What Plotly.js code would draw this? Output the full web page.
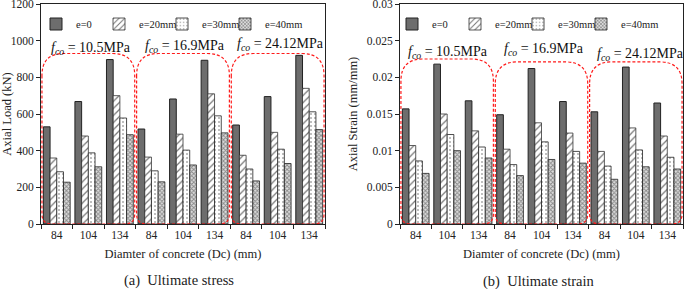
<!DOCTYPE html>
<html><head><meta charset="utf-8">
<script src="https://cdn.plot.ly/plotly-3.0.1.min.js"></script>
<style>html,body{margin:0;padding:0;background:#fff}</style>
</head><body><div id="chart" style="width:685px;height:289px"></div>
<script>
var diameters = ['84','104','134','84','104','134','84','104','134'];
var seriesNames = ['e=0','e=20mm','e=30mm','e=40mm'];
var strengthLabels = ['10.5MPa','16.9MPa','24.12MPa'];

// Axial load (kN)
var load_e0  = [530, 668, 897, 518, 682, 893, 540, 695, 920];
var load_e20 = [360, 480, 700, 365, 490, 710, 375, 500, 740];
var load_e30 = [285, 388, 578, 290, 403, 590, 300, 408, 612];
var load_e40 = [228, 312, 487, 230, 322, 497, 235, 330, 515];

// Axial strain (mm/mm)
var strain_e0  = [0.0157, 0.0218, 0.0168, 0.0149, 0.0212, 0.0167, 0.0153, 0.0214, 0.0165];
var strain_e20 = [0.0107, 0.0150, 0.0127, 0.0102, 0.0138, 0.0124, 0.0099, 0.0131, 0.0120];
var strain_e30 = [0.0086, 0.0122, 0.0105, 0.0081, 0.0112, 0.0099, 0.0079, 0.0101, 0.0091];
var strain_e40 = [0.0069, 0.0100, 0.0090, 0.0066, 0.0088, 0.0083, 0.0061, 0.0078, 0.0075];

var xIdx = diameters.map(function(d,i){return i;});
var serif = 'Liberation Serif, Times New Roman, serif';

var styles = [
  {color:'#6d6d6d', line:{color:'#222', width:1}},
  {color:'#fff', line:{color:'#333', width:0.8}, pattern:{shape:'/', fgcolor:'#777', bgcolor:'#fff', size:5, solidity:0.25}},
  {color:'#fff', line:{color:'#222', width:0.8}, pattern:{shape:'.', fgcolor:'#aaa', bgcolor:'#fff', size:4, solidity:0.2}},
  {color:'#fff', line:{color:'#222', width:0.8}, pattern:{shape:'x', fgcolor:'#888', bgcolor:'#ddd', size:3, solidity:0.5}}
];

var loadSets = [load_e0, load_e20, load_e30, load_e40];
var strainSets = [strain_e0, strain_e20, strain_e30, strain_e40];
var traces = [];
loadSets.forEach(function(v,k){
  traces.push({type:'bar', x:xIdx, y:v, name:seriesNames[k], xaxis:'x', yaxis:'y', legend:'legend', marker:styles[k]});
});
strainSets.forEach(function(v,k){
  traces.push({type:'bar', x:xIdx, y:v, name:seriesNames[k], xaxis:'x2', yaxis:'y2', legend:'legend2', marker:styles[k]});
});
// empty legend spacers so the last legend label is not clipped
[['x','y','legend'],['x2','y2','legend2']].forEach(function(r){
  traces.push({type:'scatter', mode:'markers', x:[null], y:[null], name:' ', xaxis:r[0], yaxis:r[1], legend:r[2],
    marker:{color:'rgba(0,0,0,0)', size:1}, hoverinfo:'skip'});
});

var W = 685, H = 289;
var xd1 = [41/W, 325/W], xd2 = [400/W, 683/W];
var yd = [1-224/H, 1-4/H];
var plotH = 220;

function roundedBox(xref, yref, x0, x1, y0, y1, pxW, yMax, rTop, rBot) {
  var cx = 9/pxW, cy = yMax/plotH;
  var rxT = rTop*cx, ryT = rTop*cy, rxB = rBot*cx, ryB = rBot*cy;
  var p = 'M' + x0 + ',' + (y1-ryT) +
    ' L' + x0 + ',' + (y0+ryB) +
    ' Q' + x0 + ',' + y0 + ' ' + (x0+rxB) + ',' + y0 +
    ' L' + (x1-rxB) + ',' + y0 +
    ' Q' + x1 + ',' + y0 + ' ' + x1 + ',' + (y0+ryB) +
    ' L' + x1 + ',' + (y1-ryT) +
    ' Q' + x1 + ',' + y1 + ' ' + (x1-rxT) + ',' + y1 +
    ' L' + (x0+rxT) + ',' + y1 +
    ' Q' + x0 + ',' + y1 + ' ' + x0 + ',' + (y1-ryT) + ' Z';
  return {type:'path', xref:xref, yref:yref, path:p, line:{color:'#ff1a1a', width:1.2, dash:'3px,2px'}, layer:'above'};
}

var shapes = [], annotations = [];
var boxTop1 = [930, 930, 930], boxTop2 = [0.0225, 0.0221, 0.0221];
var lblY1 = [955, 970, 977], lblY2 = [0.0234, 0.0238, 0.0231];
var lblDx1 = [3, 2, 3], lblDx2 = [1, 2, 5];
for (var g=0; g<3; g++){
  var a = -0.5 + 3*g + 0.03, b = 2.5 + 3*g - 0.03;
  shapes.push(roundedBox('x','y', a, b, 0, boxTop1[g], 284, 1200, 22, 10));
  shapes.push(roundedBox('x2','y2', a, b, 0, boxTop2[g], 283, 0.03, 22, 10));
  var t = '<i>f</i><sub><i>co</i></sub> = ' + strengthLabels[g];
  annotations.push({xref:'x', yref:'y', x:1+3*g, y:lblY1[g], xshift:lblDx1[g], text:t, showarrow:false, font:{family:serif, size:14, color:'#111'}});
  annotations.push({xref:'x2', yref:'y2', x:1+3*g, y:lblY2[g], xshift:lblDx2[g], text:t, showarrow:false, font:{family:serif, size:14, color:'#111'}});
}
annotations.push({xref:'paper', yref:'paper', x:179/W, y:1-280/H, xanchor:'center', yanchor:'middle', text:'(a)  Ultimate stress', showarrow:false, font:{family:serif, size:14.5, color:'#222'}});
annotations.push({xref:'paper', yref:'paper', x:538/W, y:1-281/H, xanchor:'center', yanchor:'middle', text:'(b)  Ultimate strain', showarrow:false, font:{family:serif, size:14.5, color:'#222'}});

function xAxis(domain, anchor){
  return {domain:domain, anchor:anchor, range:[-0.5, 8.5], tickvals:xIdx, ticktext:diameters, automargin:false,
    ticks:'', showline:true, mirror:true, linecolor:'#222', linewidth:1, showgrid:false, zeroline:false,
    minor:{ticks:'outside', tick0:0.5, dtick:1, ticklen:4, tickcolor:'#222', showgrid:false},
    tickfont:{family:serif, size:11.5, color:'#222'}, ticklabeloverflow:'allow',
    title:{text:'Diamter of concrete (Dc) (mm)', font:{family:serif, size:12.5, color:'#222'}, standoff:9}};
}
function yAxis(domain, anchor, range, dtick, title){
  return {domain:domain, anchor:anchor, range:range, dtick:dtick, ticks:'outside', ticklen:4, tickcolor:'#222', automargin:false,
    showline:true, mirror:true, linecolor:'#222', linewidth:1, showgrid:false, zeroline:false,
    tickfont:{family:serif, size:11.5, color:'#222'}, ticklabeloverflow:'allow',
    title:{text:title, font:{family:serif, size:12.5, color:'#222'}, standoff:6}};
}

var legendBase = {orientation:'h', xanchor:'left', yanchor:'middle', bgcolor:'rgba(0,0,0,0)',
  font:{family:serif, size:10.5, color:'#222'}, itemwidth:30, entrywidth:18, entrywidthmode:'pixels', tracegroupgap:0};
var layout = {
  width:W, height:H, margin:{l:0, r:0, t:0, b:0, autoexpand:false}, paper_bgcolor:'#fff', plot_bgcolor:'#fff',
  barmode:'group', bargap:0.15, bargroupgap:0, showlegend:true,
  xaxis:xAxis(xd1,'y'), yaxis:yAxis(yd,'x',[0,1200],200,'Axial Load (kN)'),
  xaxis2:xAxis(xd2,'y2'), yaxis2:yAxis(yd,'x2',[0,0.03],0.005,'Axial Strain (mm/mm)'),
  legend:Object.assign({}, legendBase, {x:36/W, y:1-24/H}),
  legend2:Object.assign({}, legendBase, {x:392/W, y:1-24/H}),
  shapes:shapes, annotations:annotations
};
Plotly.newPlot('chart', traces, layout, {staticPlot:true, displayModeBar:false});
</script></body></html>
